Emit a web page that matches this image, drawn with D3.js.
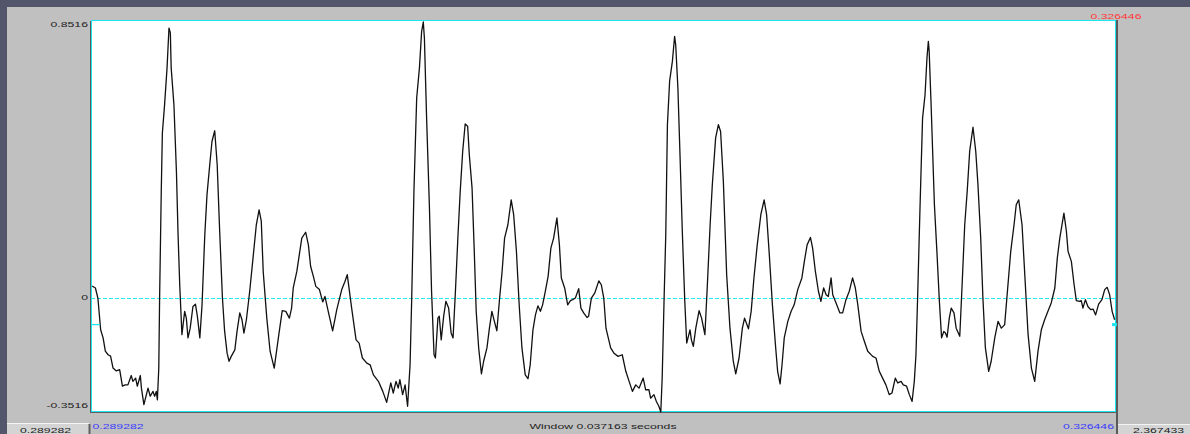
<!DOCTYPE html>
<html>
<head>
<meta charset="utf-8">
<script src="https://cdn.jsdelivr.net/npm/d3@7"></script>
<style>
  html, body { margin: 0; padding: 0; background: #c0c0c0; }
  svg { display: block; }
  text { font-family: "Liberation Sans", Arial, sans-serif; font-size: 7px; }
</style>
</head>
<body>
<svg id="chart" width="1190" height="434"></svg>
<script>
// ---- data ----
const windowStart = 0.289282;          // seconds
const windowEnd = 0.326446;            // seconds
const windowLength = 0.037163;         // seconds
const cursorTimeLabel = "0.326446";
const leftBoxLabel = "0.289282";
const rightBoxLabel = "2.367433";
const ampMax = 0.8516;
const ampMin = -0.3516;
const yTickValues = [0.8516, 0, -0.3516];
const yTickLabels = ["0.8516", "0", "-0.3516"];
const markerLevel = -0.082;

// time offset from window start, in milliseconds
const timeOffsetMs = [
0.04,0.16,0.25,0.35,0.44,0.52,0.62,0.71,0.80,0.92,1.04,1.14,1.24,1.34,1.46,1.52,1.62,1.68,1.79,1.83,
1.92,2.01,2.07,2.15,2.25,2.31,2.37,2.41,2.46,2.49,2.55,2.59,2.67,2.76,2.83,2.88,2.91,3.01,3.10,3.16,
3.22,3.30,3.40,3.46,3.52,3.60,3.70,3.79,3.86,3.95,4.03,4.13,4.21,4.31,4.39,4.49,4.58,4.67,4.77,4.85,
4.94,5.01,5.09,5.22,5.30,5.40,5.48,5.55,5.64,5.76,5.88,6.00,6.10,6.18,6.25,6.38,6.50,6.65,6.80,6.94,
7.07,7.20,7.28,7.34,7.47,7.65,7.79,7.89,7.97,8.07,8.16,8.29,8.41,8.49,8.61,8.77,8.92,9.10,9.22,9.30,
9.46,9.62,9.73,9.85,10.01,10.13,10.25,10.43,10.59,10.73,10.88,10.97,11.07,11.15,11.21,11.31,11.40,11.49,11.58,11.64,
11.72,11.82,11.92,12.00,12.06,12.10,12.18,12.28,12.36,12.45,12.50,12.59,12.64,12.71,12.80,12.88,12.98,13.07,13.14,13.22,
13.32,13.40,13.49,13.58,13.67,13.73,13.83,13.91,13.98,14.07,14.17,14.25,14.37,14.46,14.55,14.64,14.73,14.82,14.92,15.01,
15.13,15.25,15.34,15.44,15.54,15.64,15.76,15.86,15.94,16.04,16.13,16.22,16.31,16.39,16.49,16.59,16.69,16.79,16.91,17.00,
17.07,17.19,17.30,17.40,17.48,17.58,17.70,17.78,17.88,18.00,18.06,18.16,18.28,18.43,18.52,18.61,18.69,18.86,18.98,19.13,
19.28,19.41,19.53,19.65,19.77,19.89,20.04,20.13,20.25,20.31,20.43,20.52,20.61,20.68,20.73,20.80,20.86,20.92,21.00,21.10,
21.18,21.22,21.30,21.38,21.46,21.55,21.62,21.74,21.79,21.86,21.95,22.07,22.16,22.28,22.37,22.47,22.55,22.67,22.77,22.85,
22.95,23.07,23.19,23.31,23.40,23.52,23.64,23.72,23.86,23.96,24.06,24.18,24.31,24.43,24.52,24.61,24.73,24.85,24.92,25.01,
25.08,25.16,25.29,25.41,25.52,25.65,25.80,25.89,25.99,26.11,26.19,26.29,26.40,26.49,26.59,26.68,26.76,26.86,26.92,27.04,
27.18,27.28,27.40,27.52,27.64,27.74,27.83,27.95,28.07,28.19,28.37,28.49,28.61,28.73,28.85,28.97,29.07,29.19,29.28,29.40,
29.48,29.60,29.70,29.80,29.88,29.94,30.00,30.09,30.18,30.27,30.34,30.39,30.42,30.49,30.61,30.70,30.79,30.87,30.95,31.01,
31.07,31.15,31.22,31.32,31.40,31.53,31.61,31.71,31.80,31.89,32.01,32.11,32.19,32.29,32.37,32.46,32.58,32.67,32.80,32.92,
33.04,33.16,33.26,33.38,33.50,33.58,33.67,33.79,33.89,34.01,34.13,34.25,34.37,34.49,34.61,34.73,34.85,34.98,35.07,35.16,
35.24,35.31,35.40,35.46,35.58,35.68,35.76,35.88,35.94,36.00,36.09,36.18,36.28,36.37,36.46,36.57,36.69,36.79,36.88,36.97,
37.06,37.15
];

const amplitude = [
0.037,0.031,0.000,-0.098,-0.123,-0.164,-0.175,-0.179,-0.216,-0.225,-0.221,-0.272,-0.268,-0.268,-0.239,-0.257,-0.247,-0.272,-0.239,-0.278,
-0.329,-0.298,-0.278,-0.303,-0.288,-0.303,-0.288,-0.314,-0.216,0.000,0.329,0.509,0.596,0.710,0.833,0.818,0.710,0.596,0.391,0.195,
0.041,-0.113,-0.041,-0.062,-0.123,-0.093,-0.026,-0.019,-0.056,-0.123,-0.021,0.195,0.319,0.411,0.483,0.516,0.411,0.206,0.000,-0.103,
-0.170,-0.195,-0.180,-0.160,-0.103,-0.046,-0.067,-0.108,-0.067,0.021,0.123,0.226,0.272,0.237,0.082,-0.062,-0.164,-0.216,-0.123,-0.039,
-0.041,-0.062,-0.031,0.031,0.082,0.185,0.203,0.164,0.098,0.067,0.036,0.026,-0.012,0.005,-0.041,-0.101,-0.036,0.026,0.052,0.072,
-0.031,-0.129,-0.139,-0.185,-0.201,-0.206,-0.237,-0.257,-0.288,-0.322,-0.262,-0.293,-0.257,-0.278,-0.252,-0.298,-0.268,-0.334,-0.206,0.000,
0.329,0.617,0.710,0.823,0.8516,0.802,0.555,0.288,0.021,-0.175,-0.185,-0.062,-0.056,-0.129,-0.056,-0.010,-0.031,-0.108,-0.123,0.010,
0.195,0.329,0.453,0.537,0.530,0.442,0.339,0.144,-0.041,-0.154,-0.234,-0.195,-0.154,-0.093,-0.041,-0.072,-0.101,-0.010,0.082,0.185,
0.226,0.303,0.257,0.144,-0.021,-0.154,-0.237,-0.249,-0.206,-0.098,-0.052,-0.024,-0.041,-0.021,0.021,0.067,0.154,0.185,0.247,0.164,
0.062,0.031,-0.021,-0.008,-0.005,0.000,0.029,-0.031,-0.046,-0.060,-0.056,0.000,0.015,0.053,0.041,0.000,-0.093,-0.154,-0.170,-0.180,
-0.175,-0.226,-0.257,-0.288,-0.268,-0.278,-0.247,-0.283,-0.283,-0.309,-0.298,-0.319,-0.334,-0.3516,-0.247,0.000,0.195,0.535,0.669,0.730,
0.807,0.782,0.648,0.432,0.206,-0.010,-0.139,-0.098,-0.129,-0.149,-0.093,-0.039,-0.062,-0.113,0.041,0.226,0.350,0.494,0.535,0.514,
0.360,0.072,-0.093,-0.195,-0.234,-0.185,-0.093,-0.062,-0.095,-0.041,0.062,0.164,0.257,0.303,0.257,0.144,-0.021,-0.154,-0.226,-0.265,
-0.206,-0.123,-0.072,-0.041,-0.021,0.026,0.062,0.113,0.164,0.187,0.154,0.082,0.021,-0.010,0.031,0.010,0.005,0.062,0.010,-0.015,
-0.046,-0.046,-0.005,0.021,0.062,0.031,-0.021,-0.103,-0.134,-0.164,-0.180,-0.185,-0.226,-0.247,-0.268,-0.298,-0.293,-0.247,-0.262,-0.257,
-0.268,-0.272,-0.298,-0.319,-0.257,-0.175,0.000,0.288,0.555,0.627,0.741,0.792,0.761,0.596,0.288,0.144,-0.010,-0.123,-0.103,-0.108,
-0.121,-0.062,-0.031,-0.046,-0.093,-0.118,0.031,0.226,0.329,0.453,0.527,0.453,0.350,0.185,0.000,-0.154,-0.226,-0.195,-0.123,-0.072,
-0.093,-0.082,0.021,0.144,0.226,0.288,0.303,0.226,0.072,-0.113,-0.216,-0.257,-0.164,-0.098,-0.067,-0.041,-0.015,0.031,0.123,0.185,
0.226,0.262,0.206,0.144,0.113,0.041,-0.008,-0.010,-0.008,-0.031,-0.005,-0.026,-0.036,-0.034,-0.052,-0.019,-0.005,0.026,0.033,0.010,
-0.041,-0.067
];

const samples = timeOffsetMs.map((t, i) => ({ t, a: amplitude[i] }));

// ---- drawing ----
const svg = d3.select("#chart");
const W = 1190, H = 434;
const plot = { left: 91, right: 1115, top: 21, bottom: 412 };

const x = d3.scaleLinear()
  .domain([0, (windowEnd - windowStart) * 1000])
  .range([plot.left, plot.right]);
const y = d3.scaleLinear()
  .domain([ampMin, ampMax])
  .range([plot.bottom, plot.top + 1]);

// window chrome
svg.append("rect").attr("width", W).attr("height", H).attr("fill", "#c0c0c0");
svg.append("rect").attr("x", 0).attr("y", 0).attr("width", W).attr("height", 7).attr("fill", "#53556a");
svg.append("rect").attr("x", 0).attr("y", 0).attr("width", 7).attr("height", H).attr("fill", "#53556a");

// bottom boxes
svg.append("rect").attr("x", 7).attr("y", 423).attr("width", 82).attr("height", 12).attr("fill", "#d4d4d4");
svg.append("line").attr("x1", 7).attr("x2", 89).attr("y1", 423.5).attr("y2", 423.5).attr("stroke", "#f4f4f4");
svg.append("line").attr("x1", 89.5).attr("x2", 89.5).attr("y1", 424).attr("y2", H).attr("stroke", "#606060").attr("stroke-width", 2);
svg.append("rect").attr("x", 1118).attr("y", 424).attr("width", 72).attr("height", 11).attr("fill", "#d4d4d4");
svg.append("line").attr("x1", 1118).attr("x2", W).attr("y1", 424.5).attr("y2", 424.5).attr("stroke", "#f4f4f4");

// plot area
svg.append("rect")
  .attr("x", plot.left).attr("y", plot.top)
  .attr("width", plot.right - plot.left).attr("height", plot.bottom - plot.top)
  .attr("fill", "#ffffff");

// zero line
svg.append("line")
  .attr("x1", plot.left).attr("x2", plot.right)
  .attr("y1", Math.round(y(0)) + 0.5).attr("y2", Math.round(y(0)) + 0.5)
  .attr("stroke", "#22e8f0").attr("stroke-width", 1)
  .attr("stroke-dasharray", "4,2");

// borders
const border = (x1, y1, x2, y2, c, w) => svg.append("line")
  .attr("x1", x1).attr("y1", y1).attr("x2", x2).attr("y2", y2)
  .attr("stroke", c).attr("stroke-width", w || 1);
border(90.5, plot.top, 90.5, plot.bottom + 1, "#5a5a5a");
border(91.5, plot.top, 91.5, plot.bottom, "#1ee6ee");
border(plot.left, 20.5, plot.right + 1, 20.5, "#1ee6ee");
border(plot.left, 411.5, plot.right + 1, 411.5, "#1ee6ee");
border(90, 412.5, 1118, 412.5, "#606060");
border(1115.5, 20, 1115.5, 412, "#1ee6ee");
border(1117, 20, 1117, H, "#5a5a5a", 2);

// waveform
const line = d3.line().x(d => x(d.t)).y(d => y(d.a));
svg.append("path")
  .datum(samples)
  .attr("d", line)
  .attr("fill", "none")
  .attr("stroke", "#111")
  .attr("stroke-width", 1.3)
  .attr("stroke-linejoin", "round");

// level markers
svg.append("line")
  .attr("x1", plot.left).attr("x2", plot.left + 9)
  .attr("y1", y(markerLevel)).attr("y2", y(markerLevel))
  .attr("stroke", "#1ee6ee").attr("stroke-width", 1.2);
svg.append("line")
  .attr("x1", plot.right - 3).attr("x2", plot.right + 2)
  .attr("y1", y(markerLevel)).attr("y2", y(markerLevel))
  .attr("stroke", "#1ee6ee").attr("stroke-width", 3);

// stretched text helper
const SX = 1.75;
function label(str, px, py, anchor, color) {
  svg.append("text")
    .attr("transform", `translate(${px},${py}) scale(${SX},1)`)
    .attr("text-anchor", anchor)
    .attr("fill", color || "#222")
    .text(str);
}

// y tick labels
const yOffsets = [4.8, 1.5, -4];
yTickValues.forEach((v, i) => {
  label(yTickLabels[i], plot.left - 3, y(v) + yOffsets[i], "end");
});

// time labels
label(d3.format(".6f")(windowStart), plot.left + 1.5, 428.5, "start", "#3a3aff");
label(d3.format(".6f")(windowEnd), plot.right - 1, 428.5, "end", "#3a3aff");
label("Window " + d3.format(".6f")(windowLength) + " seconds", (plot.left + plot.right) / 2 + 0, 428.5, "middle", "#222");
label(cursorTimeLabel, 1141.5, 18.5, "end", "#ff3535");
label(leftBoxLabel, 20, 432.5, "start", "#222");
label(rightBoxLabel, 1133, 432.5, "start", "#222");
</script>
</body>
</html>
